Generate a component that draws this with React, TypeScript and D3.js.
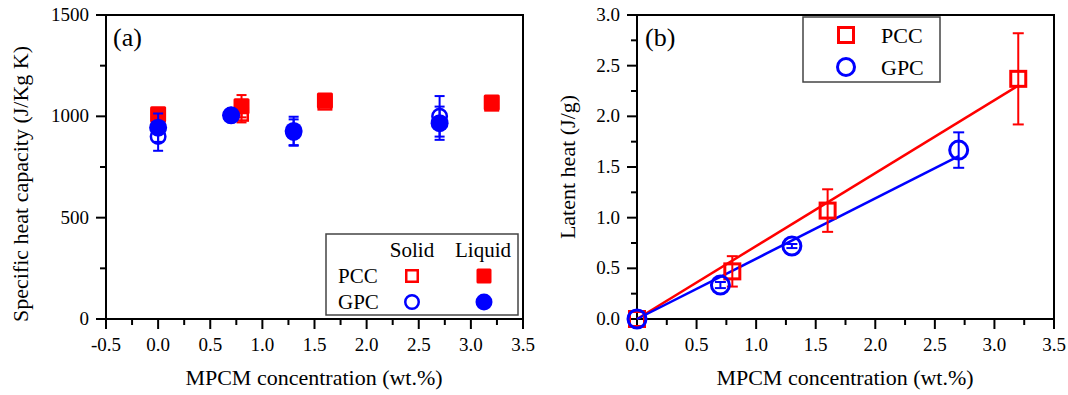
import React from "react";
import * as d3 from "d3";

const W = 1068;
const H = 395;
const FONT = "Liberation Serif, Times New Roman, DejaVu Serif, serif";
const RED = "#ff0000";
const BLUE = "#0000ff";

// concentrations (wt.%)
const pccConc = [0, 0.8, 1.6, 3.2];
const gpcConc = [0, 0.7, 1.3, 2.7];

// (a) specific heat capacity, J/Kg K
const cpPccSolid = [1000, 1010, 1065, 1060];
const cpPccSolidErr = [15, 40, 10, 8];
const cpPccLiquid = [1010, 1050, 1078, 1068];
const cpPccLiquidErr = [15, 55, 10, 8];
const cpGpcSolid = [900, 1005, 920, 1000];
const cpGpcSolidErr = [70, 10, 65, 100];
const cpGpcLiquid = [944, 1005, 928, 966];
const cpGpcLiquidErr = [70, 10, 70, 82];

// (b) latent heat, J/g
const lhPcc = [0, 0.47, 1.07, 2.37];
const lhPccErr = [0, 0.15, 0.21, 0.45];
const lhGpc = [0, 0.335, 0.72, 1.667];
const lhGpcErr = [0, 0.03, 0.02, 0.175];
const fitSlopePcc = 0.72;
const fitSlopeGpc = 0.595;

const xTicksA = [-0.5, 0, 0.5, 1, 1.5, 2, 2.5, 3, 3.5];
const yTicksA = [0, 500, 1000, 1500];
const xTicksB = [0, 0.5, 1, 1.5, 2, 2.5, 3, 3.5];
const yTicksB = [0, 0.5, 1, 1.5, 2, 2.5, 3];

const TOP = 15;
const BOTTOM = 319;

const xA = d3.scaleLinear().domain([-0.5, 3.5]).range([106, 523]);
const yA = d3.scaleLinear().domain([0, 1500]).range([BOTTOM, TOP]);
const xB = d3.scaleLinear().domain([0, 3.5]).range([637, 1054]);
const yB = d3.scaleLinear().domain([0, 3]).range([BOTTOM, TOP]);

const fmt1 = (v: number) => v.toFixed(1);
const fmt0 = (v: number) => String(v);

const txt = (size: number) => ({ fontFamily: FONT, fontSize: size });

function Frame({ x, y, xTicks, yTicks, yMinorStep, xFmt, yFmt }: any) {
  const [x0, x1] = x.range();
  const [y0, y1] = y.range();
  const xMinor = xTicks.slice(0, -1).map((t: number) => t + 0.25);
  const yMinor = yTicks.slice(0, -1).map((t: number) => t + yMinorStep);
  return (
    <g fill="#000">
      <rect x={x0} y={y1} width={x1 - x0} height={y0 - y1} fill="none" stroke="#000" strokeWidth={2} />
      {xTicks.map((t: number) => (
        <g key={"xt" + t}>
          <line x1={x(t)} x2={x(t)} y1={y0} y2={y0 + 10} stroke="#000" strokeWidth={2} />
          <text x={x(t)} y={y0 + 32} style={txt(19)} textAnchor="middle">{xFmt(t)}</text>
        </g>
      ))}
      {xMinor.map((t: number) => (
        <line key={"xm" + t} x1={x(t)} x2={x(t)} y1={y0} y2={y0 + 6} stroke="#000" strokeWidth={2} />
      ))}
      {yTicks.map((t: number) => (
        <g key={"yt" + t}>
          <line x1={x0 - 10} x2={x0} y1={y(t)} y2={y(t)} stroke="#000" strokeWidth={2} />
          <text x={x0 - 17} y={y(t) + 6} style={txt(19)} textAnchor="end">{yFmt(t)}</text>
        </g>
      ))}
      {yMinor.map((t: number) => (
        <line key={"ym" + t} x1={x0 - 6} x2={x0} y1={y(t)} y2={y(t)} stroke="#000" strokeWidth={2} />
      ))}
    </g>
  );
}

function ErrBars({ xs, ys, errs, x, y, color, cap }: any) {
  return (
    <g stroke={color} strokeWidth={2}>
      {xs.map((c: number, i: number) =>
        errs[i] > 0 ? (
          <g key={i}>
            <line x1={x(c)} x2={x(c)} y1={y(ys[i] - errs[i])} y2={y(ys[i] + errs[i])} />
            <line x1={x(c) - cap / 2} x2={x(c) + cap / 2} y1={y(ys[i] - errs[i])} y2={y(ys[i] - errs[i])} />
            <line x1={x(c) - cap / 2} x2={x(c) + cap / 2} y1={y(ys[i] + errs[i])} y2={y(ys[i] + errs[i])} />
          </g>
        ) : null
      )}
    </g>
  );
}

function Square({ cx, cy, size, color, filled, sw }: any) {
  const s = filled ? size : size - sw;
  return (
    <rect x={cx - s / 2} y={cy - s / 2} width={s} height={s} rx={filled ? 1.5 : 0}
      fill={filled ? color : "none"} stroke={filled ? "none" : color} strokeWidth={sw} />
  );
}

function Circle({ cx, cy, size, color, filled, sw }: any) {
  const r = filled ? size / 2 : (size - sw) / 2;
  return <circle cx={cx} cy={cy} r={r} fill={filled ? color : "none"} stroke={filled ? "none" : color} strokeWidth={sw} />;
}

function PanelA() {
  return (
    <g>
      <Frame x={xA} y={yA} xTicks={xTicksA} yTicks={yTicksA} yMinorStep={250} xFmt={fmt1} yFmt={fmt0} />
      <text x={113} y={46} style={txt(26)}>(a)</text>
      {/* PCC */}
      <ErrBars xs={pccConc} ys={cpPccSolid} errs={cpPccSolidErr} x={xA} y={yA} color={RED} cap={10} />
      {pccConc.map((c, i) => (
        <Square key={"ps" + i} cx={xA(c)} cy={yA(cpPccSolid[i])} size={15} color={RED} filled={false} sw={2.5} />
      ))}
      <ErrBars xs={pccConc} ys={cpPccLiquid} errs={cpPccLiquidErr} x={xA} y={yA} color={RED} cap={10} />
      {pccConc.map((c, i) => (
        <Square key={"pl" + i} cx={xA(c)} cy={yA(cpPccLiquid[i])} size={16} color={RED} filled={true} sw={0} />
      ))}
      {/* GPC */}
      <ErrBars xs={gpcConc} ys={cpGpcSolid} errs={cpGpcSolidErr} x={xA} y={yA} color={BLUE} cap={10} />
      {gpcConc.map((c, i) => (
        <Circle key={"gs" + i} cx={xA(c)} cy={yA(cpGpcSolid[i])} size={17} color={BLUE} filled={false} sw={2.5} />
      ))}
      <ErrBars xs={gpcConc} ys={cpGpcLiquid} errs={cpGpcLiquidErr} x={xA} y={yA} color={BLUE} cap={10} />
      {gpcConc.map((c, i) => (
        <Circle key={"gl" + i} cx={xA(c)} cy={yA(cpGpcLiquid[i])} size={18} color={BLUE} filled={true} sw={0} />
      ))}
      {/* legend */}
      <g>
        <rect x={326} y={234} width={192} height={81} fill="#fff" stroke="#444" strokeWidth={1.5} />
        <text x={412} y={257} style={txt(21)} textAnchor="middle">Solid</text>
        <text x={483} y={257} style={txt(21)} textAnchor="middle">Liquid</text>
        <text x={338} y={283} style={txt(21)}>PCC</text>
        <text x={338} y={309} style={txt(21)}>GPC</text>
        <Square cx={412} cy={276} size={14} color={RED} filled={false} sw={2.5} />
        <Square cx={484} cy={276} size={15} color={RED} filled={true} sw={0} />
        <Circle cx={412} cy={302} size={16} color={BLUE} filled={false} sw={2.5} />
        <Circle cx={484} cy={302} size={17} color={BLUE} filled={true} sw={0} />
      </g>
      <text x={314} y={385} style={txt(22)} textAnchor="middle">MPCM concentration (wt.%)</text>
      <text transform={`translate(28,${184}) rotate(-90)`} style={txt(22)} textAnchor="middle">
        Specific heat capacity (J/Kg K)
      </text>
    </g>
  );
}

function PanelB() {
  const pccEnd = pccConc[pccConc.length - 1];
  const gpcEnd = gpcConc[gpcConc.length - 1];
  return (
    <g>
      <Frame x={xB} y={yB} xTicks={xTicksB} yTicks={yTicksB} yMinorStep={0.25} xFmt={fmt1} yFmt={fmt1} />
      <text x={645} y={46} style={txt(26)}>(b)</text>
      <line x1={xB(0)} y1={yB(0)} x2={xB(pccEnd)} y2={yB(fitSlopePcc * pccEnd)} stroke={RED} strokeWidth={2.5} />
      <line x1={xB(0)} y1={yB(0)} x2={xB(gpcEnd)} y2={yB(fitSlopeGpc * gpcEnd)} stroke={BLUE} strokeWidth={2.5} />
      <ErrBars xs={pccConc} ys={lhPcc} errs={lhPccErr} x={xB} y={yB} color={RED} cap={11} />
      {pccConc.map((c, i) => (
        <Square key={"p" + i} cx={xB(c)} cy={yB(lhPcc[i])} size={18} color={RED} filled={false} sw={3} />
      ))}
      <ErrBars xs={gpcConc} ys={lhGpc} errs={lhGpcErr} x={xB} y={yB} color={BLUE} cap={11} />
      {gpcConc.map((c, i) => (
        <Circle key={"g" + i} cx={xB(c)} cy={yB(lhGpc[i])} size={21} color={BLUE} filled={false} sw={3} />
      ))}
      <g>
        <rect x={803} y={17} width={137} height={65} fill="#fff" stroke="#444" strokeWidth={1.5} />
        <Square cx={846} cy={35} size={18} color={RED} filled={false} sw={3} />
        <Circle cx={846} cy={67} size={20} color={BLUE} filled={false} sw={3} />
        <text x={881} y={43} style={txt(22)}>PCC</text>
        <text x={881} y={75} style={txt(22)}>GPC</text>
      </g>
      <text x={845} y={385} style={txt(22)} textAnchor="middle">MPCM concentration (wt.%)</text>
      <text transform={`translate(575,${167}) rotate(-90)`} style={txt(22)} textAnchor="middle">
        Latent heat (J/g)
      </text>
    </g>
  );
}

export default function App() {
  return (
    <svg width={W} height={H} style={{ position: "absolute", left: 0, top: 0, background: "#fff" }}>
      <rect width={W} height={H} fill="#fff" />
      <PanelA />
      <PanelB />
    </svg>
  );
}
